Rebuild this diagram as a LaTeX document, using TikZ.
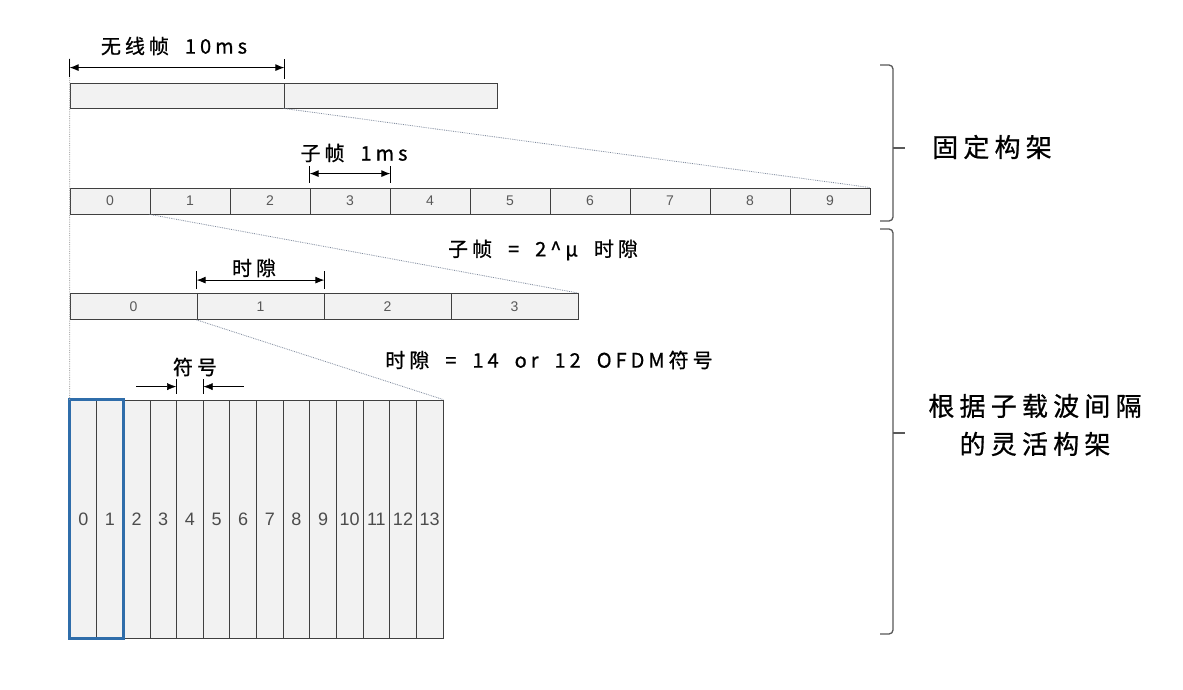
\documentclass[tikz,border=0pt]{standalone}
\usepackage{fontspec}
\setmainfont{Liberation Sans}
\newfontfamily\cjk[LetterSpace=20,FakeBold=0.8]{Noto Sans CJK SC}
\usetikzlibrary{arrows.meta,decorations.pathreplacing}

\definecolor{cellfill}{HTML}{F2F2F2}
\definecolor{zoomgray}{HTML}{7D889C}
\definecolor{slotblue}{HTML}{2F6DAA}
\newcommand{\gap}{\hspace{0.8em}}

\begin{document}
\begin{tikzpicture}[x=1pt, y=-1pt, >={Latex[length=9pt,width=7pt]},
    cell/.style={draw=black!75, line width=0.8pt, fill=cellfill, minimum height=26pt, inner sep=0pt, font=\fontsize{14}{16}\selectfont\color{black!65}},
    symcell/.style={cell, minimum width=26.64pt, minimum height=238pt, font=\fontsize{18}{20}\selectfont\color{black!70}},
    dim/.style={<->, line width=1pt},
    dimtick/.style={line width=0.8pt},
    zoomline/.style={draw=zoomgray, densely dotted, line width=0.8pt},
    lbl/.style={font=\cjk\fontsize{20}{24}\selectfont},
    biglbl/.style={font=\cjk\fontsize{26}{38}\selectfont, align=center},
    grp/.style={draw=black!65, line width=1.3pt, rounded corners=4pt}]
    \useasboundingbox[fill=white] (0,0) rectangle (1183,690);
    % Radio frame
    \node[cell, minimum width=214pt, minimum height=25pt] (f0) at (177,95.5) {};
    \node[cell, minimum width=213pt, minimum height=25pt] (f1) at (390.5,95.5) {};
    % Subframes
    \foreach \i in {0,...,9}
        \node[cell, minimum width=80pt] (s\i) at (110+80*\i,201) {\i};
    % Slots
    \foreach \i in {0,...,3}
        \node[cell, minimum width=127pt] (t\i) at (133.5+127*\i,306.5) {\i};
    % OFDM symbols
    \foreach \i in {0,...,13}
        \node[symcell] (o\i) at (83.32+26.64*\i,519) {\i};
    \draw[slotblue, line width=3pt] (o0.north west) rectangle (o1.south east);
    % Zoom lines
    \draw[zoomline, draw=gray!60] ([yshift=24pt]f0.north west) -- (o0.north west);
    \draw[zoomline] (f1.south west) -- (s9.north east);
    \draw[zoomline] (s1.south west) -- (t3.north east);
    \draw[zoomline] (t1.south west) -- (o13.north east);
    % Frame length
    \draw[dim] ([yshift=15pt]f0.north west) -- ([yshift=15pt]f0.north east);
    \draw[dimtick] ([yshift=6pt]f0.north west) -- ([yshift=24pt]f0.north west);
    \draw[dimtick] ([yshift=4pt]f0.north east) -- ([yshift=24pt]f0.north east);
    \node[lbl] (framelbl) at (174,46) {无线帧\gap 10ms};
    % Subframe length
    \draw[dim] ([yshift=14pt]s3.north west) -- ([yshift=14pt]s3.north east);
    \draw[dimtick] ([yshift=5pt]s3.north west) -- ([yshift=22pt]s3.north west);
    \draw[dimtick] ([yshift=5pt]s3.north east) -- ([yshift=22pt]s3.north east);
    \node[lbl] (sublbl) at (354,153) {子帧\gap 1ms};
    \node[lbl] (subeq) at (543,250) {子帧\gap=\gap2\^{}μ\gap 时隙};
    % Slot length
    \draw[dim] ([yshift=13pt]t1.north west) -- ([yshift=13pt]t1.north east);
    \draw[dimtick] ([yshift=4pt]t1.north west) -- ([yshift=22pt]t1.north west);
    \draw[dimtick] ([yshift=4pt]t1.north east) -- ([yshift=22pt]t1.north east);
    \node[lbl] (slotlbl) at (254,268) {时隙};
    \node[lbl] (sloteq) at (549,360) {时隙\gap=\gap14\gap or\gap 12\gap OFDM符号};
    % Symbol length
    \draw[->] ([xshift=-40pt,yshift=13pt]o4.north west) -- ([yshift=13pt]o4.north west);
    \draw[->] ([xshift=40pt,yshift=13pt]o4.north east) -- ([yshift=13pt]o4.north east);
    \draw[dimtick] ([yshift=6pt]o4.north west) -- ([yshift=21pt]o4.north west);
    \draw[dimtick] ([yshift=6pt]o4.north east) -- ([yshift=21pt]o4.north east);
    \node[lbl] (symlbl) at (195,367) {符号};
    % Braces
    \draw[grp] (880,65) -- (893,65) -- (893,221) -- (880,221);
    \draw[dimtick, draw=black!65, line width=1.3pt] (893,148) -- (905,148);
    \draw[grp] (880,229) -- (893,229) -- (893,634) -- (880,634);
    \draw[dimtick, draw=black!65, line width=1.3pt] (893,433) -- (905,433);
    \node[biglbl] (fixlbl) at (992,147) {固定构架};
    \node[biglbl] (flexlbl) at (1035,425) {根据子载波间隔\\的灵活构架};
\end{tikzpicture}
\end{document}
